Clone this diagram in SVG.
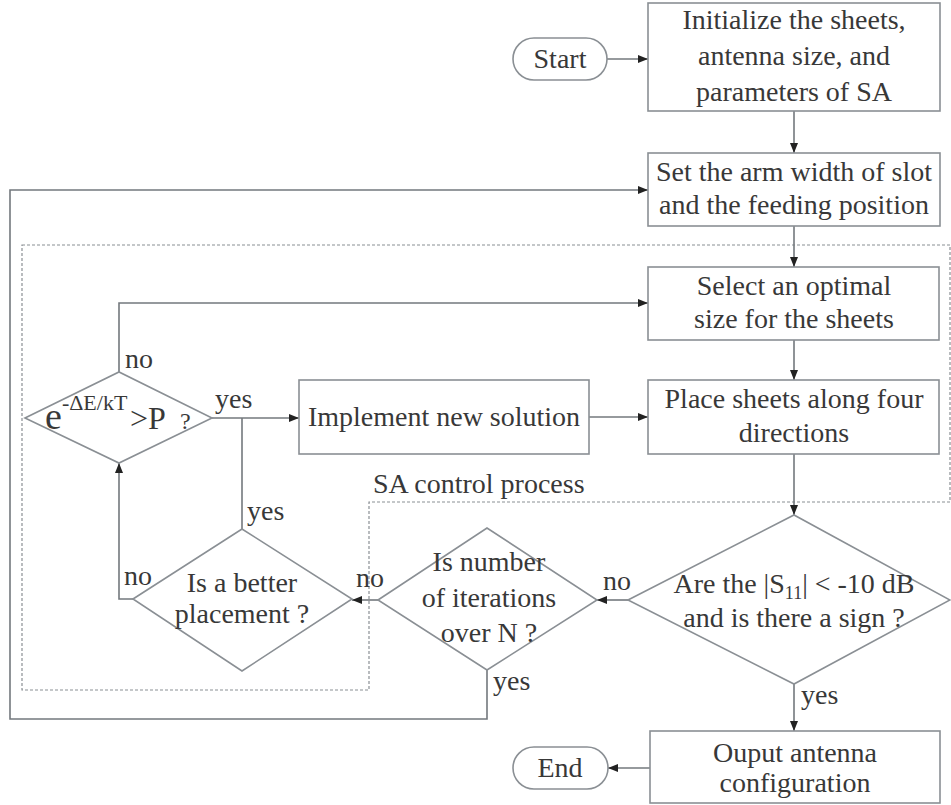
<svg xmlns="http://www.w3.org/2000/svg" width="951" height="805" viewBox="0 0 951 805" font-family="'Liberation Serif', 'DejaVu Serif', serif">
<defs>
<marker id="ah" viewBox="0 0 10 8" refX="10" refY="4" markerWidth="10" markerHeight="8" markerUnits="userSpaceOnUse" orient="auto">
<path d="M0,0 L10,4 L0,8 Z" fill="#222"/>
</marker>
<style>
.box{fill:#fff;stroke:#8a8f94;stroke-width:1.6}
.ln{fill:none;stroke:#73787d;stroke-width:1.6}
.dash{fill:none;stroke:#8a8f94;stroke-width:1.2;stroke-dasharray:3 2}
.t{font-family:'Liberation Serif', 'DejaVu Serif', serif;font-size:28px;fill:#383838}
.c{text-anchor:middle}
</style>
</defs>
<rect width="951" height="805" fill="#fff"/>
<path class="dash" d="M22,245 H950 V502 H369 V690 H22 Z"/>
<text class="t" x="373" y="493">SA control process</text>

<g id="connectors">
<path class="ln" d="M607,59 H648" marker-end="url(#ah)"/>
<path class="ln" d="M794,111 V153" marker-end="url(#ah)"/>
<path class="ln" d="M794,226 V267" marker-end="url(#ah)"/>
<path class="ln" d="M794,340 V380" marker-end="url(#ah)"/>
<path class="ln" d="M794,454 V515" marker-end="url(#ah)"/>
<path class="ln" d="M628,600 H597" marker-end="url(#ah)"/>
<path class="ln" d="M378,600 H352" marker-end="url(#ah)"/>
<path class="ln" d="M242,529 V418"/>
<path class="ln" d="M212,418 H299" marker-end="url(#ah)"/>
<path class="ln" d="M589,417 H648" marker-end="url(#ah)"/>
<path class="ln" d="M119,372 V303 H648" marker-end="url(#ah)"/>
<path class="ln" d="M133,599 H119 V463" marker-end="url(#ah)"/>
<path class="ln" d="M487,670 V719 H10 V190 H648" marker-end="url(#ah)"/>
<path class="ln" d="M794,684 V731" marker-end="url(#ah)"/>
<path class="ln" d="M650,768 H608" marker-end="url(#ah)"/>
<text class="t" x="125" y="368">no</text>
<text class="t" x="215" y="408">yes</text>
<text class="t" x="247" y="520">yes</text>
<text class="t" x="124" y="585">no</text>
<text class="t" x="356" y="587">no</text>
<text class="t" x="603" y="590">no</text>
<text class="t" x="493" y="690">yes</text>
<text class="t" x="801" y="704">yes</text>
</g>

<g id="start">
<rect class="box" x="513" y="38" width="94" height="42" rx="21"/>
<text class="t c" x="560" y="68">Start</text>
</g>
<g id="init">
<rect class="box" x="648" y="3" width="292" height="108"/>
<text class="t c" x="794" y="29">Initialize the sheets,</text>
<text class="t c" x="794" y="65">antenna size, and</text>
<text class="t c" x="794" y="101">parameters of SA</text>
</g>
<g id="set">
<rect class="box" x="648" y="153" width="292" height="73"/>
<text class="t c" x="794" y="181">Set the arm width of slot</text>
<text class="t c" x="794" y="214">and the feeding position</text>
</g>
<g id="select">
<rect class="box" x="648" y="267" width="291" height="73"/>
<text class="t c" x="794" y="295">Select an optimal</text>
<text class="t c" x="794" y="328">size for the sheets</text>
</g>
<g id="place">
<rect class="box" x="648" y="380" width="291" height="74"/>
<text class="t c" x="794" y="408">Place sheets along four</text>
<text class="t c" x="794" y="442">directions</text>
</g>
<g id="implement">
<rect class="box" x="299" y="380" width="290" height="74"/>
<text class="t c" x="444" y="426">Implement new solution</text>
</g>
<g id="prob">
<polygon class="box" points="25,418 119,372 212,418 119,463"/>
<text class="t" x="45" y="429"><tspan style="font-size:38px">e</tspan><tspan style="font-size:22px" dy="-19">-ΔE/kT</tspan><tspan x="130" dy="19" style="font-size:32px">&gt;P</tspan><tspan x="180" style="font-size:24px">?</tspan></text>
</g>
<g id="better">
<polygon class="box" points="133,599 242,529 352,599 242,671"/>
<text class="t c" x="242" y="592">Is a better</text>
<text class="t c" x="242" y="623">placement ?</text>
</g>
<g id="iter">
<polygon class="box" points="378,600 487,528 597,600 487,670"/>
<text class="t c" x="489" y="571">Is number</text>
<text class="t c" x="489" y="607">of iterations</text>
<text class="t c" x="489" y="642">over N ?</text>
</g>
<g id="s11">
<polygon class="box" points="628,600 794,515 950,600 794,684"/>
<text class="t c" x="794" y="593">Are the |S<tspan style="font-size:18px" dy="6">11</tspan><tspan dy="-6">| &lt; -10 dB</tspan></text>
<text class="t c" x="794" y="627">and is there a sign ?</text>
</g>
<g id="output">
<rect class="box" x="650" y="731" width="290" height="72"/>
<text class="t c" x="795" y="762">Ouput antenna</text>
<text class="t c" x="795" y="792">configuration</text>
</g>
<g id="end">
<rect class="box" x="513" y="747" width="95" height="42" rx="21"/>
<text class="t c" x="560" y="777">End</text>
</g>
</svg>
